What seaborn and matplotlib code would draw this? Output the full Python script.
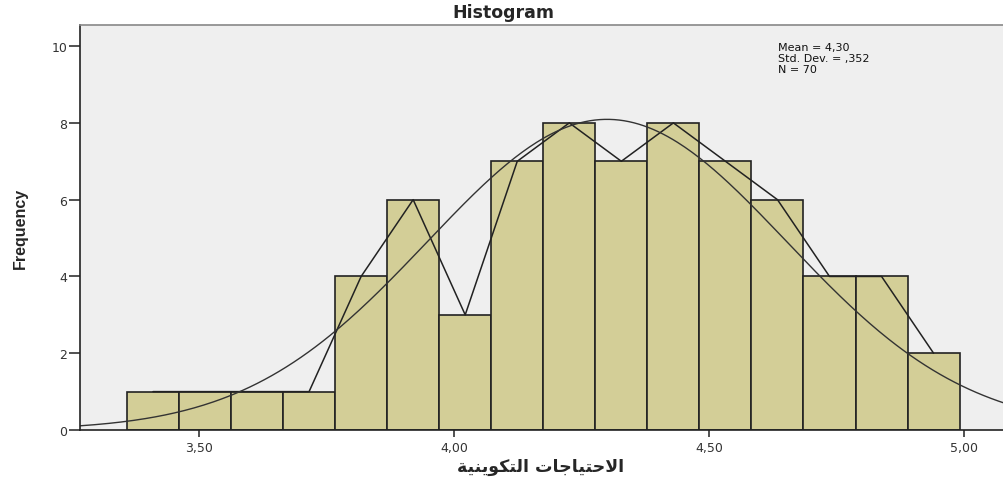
import numpy as np
import pandas as pd
import matplotlib
matplotlib.use("Agg")
import matplotlib.pyplot as plt
import seaborn as sns

# histogram data
bin_start = 3.359
bin_width = 0.102
counts = [1, 1, 1, 1, 4, 6, 3, 7, 8, 7, 8, 7, 6, 4, 4, 2]
mean_val = 4.30
std_val = 0.352
n_total = 70

x_ticks = [3.5, 4.0, 4.5, 5.0]
x_tick_labels = ["3,50", "4,00", "4,50", "5,00"]
y_ticks = [0, 2, 4, 6, 8, 10]
stats_lines = ["Mean = 4,30", "Std. Dev. = ,352", "N = 70"]

# Arabic label, pre-shaped in visual order (no bidi support in matplotlib)
word2 = "\uFE94\uFEF4\uFEE8\uFEF3\uFEEE\uFEDC\uFE98\uFEDF\uFE8D"
word1 = "\uFE95\uFE8E\uFE9F\uFE8E\uFEF4\uFE98\uFEA3\uFEFB\uFE8D"
x_label = word2 + " " + word1

edges = [bin_start + bin_width * i for i in range(len(counts) + 1)]
centers = [(edges[i] + edges[i + 1]) / 2 for i in range(len(counts))]
df = pd.DataFrame({"value": centers, "count": counts})

sns.set_style("white")
plt.rcParams["font.family"] = ["DejaVu Sans"]

fig = plt.figure(figsize=(10.04, 4.81), dpi=100)
ax = fig.add_axes([80 / 1004, 1 - 431 / 481, 924 / 1004, 405 / 481])
ax.set_facecolor("#efefef")

sns.histplot(data=df, x="value", weights="count", bins=edges, ax=ax,
             color="#d3ce97", alpha=1, edgecolor="#222222", linewidth=1.2)

# frequency polygon through bin centres
sns.lineplot(data=df, x="value", y="count", ax=ax, color="#222222",
             linewidth=1.1, estimator=None)

# normal curve scaled to counts
xs = np.linspace(3.2, 5.1, 400)
ys = n_total * bin_width * np.exp(-0.5 * ((xs - mean_val) / std_val) ** 2) / (std_val * np.sqrt(2 * np.pi))
ax.plot(xs, ys, color="#333333", linewidth=1.0)

ax.set_xlim(3.267, 5.078)
ax.set_ylim(0, 10.55)
ax.set_xticks(x_ticks)
ax.set_xticklabels(x_tick_labels)
ax.set_yticks(y_ticks)
ax.tick_params(axis="x", direction="out", length=5, width=1.2, color="#333333",
               labelsize=9, labelcolor="#333333", bottom=True, pad=3)
ax.tick_params(axis="y", direction="out", length=8, width=1.2, color="#333333",
               labelsize=9, labelcolor="#333333", left=True, pad=1)
ax.set_xlabel("")
ax.set_ylabel("")

for side in ["left", "bottom"]:
    ax.spines[side].set_color("#222222")
    ax.spines[side].set_linewidth(1.2)
ax.spines["top"].set_color("#888888")
ax.spines["top"].set_linewidth(1.2)
ax.spines["right"].set_visible(False)

fig.text(503 / 1004, 1 - 13 / 481, "Histogram", ha="center", va="center",
         fontsize=12.5, fontweight="bold")
fig.text(20 / 1004, 1 - 228 / 481, "Frequency", rotation=90, ha="center", va="center",
         fontsize=11.5, fontweight="bold", family=["Liberation Sans Narrow", "Liberation Sans"])
fig.text(541 / 1004, 1 - 467 / 481, x_label, ha="center", va="center",
         fontsize=12.5, fontweight="bold")

for i, line in enumerate(stats_lines):
    fig.text(778 / 1004, 1 - (48 + i * 11) / 481, line, ha="left", va="center",
             fontsize=8, color="#111111")

fig.savefig("out.png", dpi=100)
